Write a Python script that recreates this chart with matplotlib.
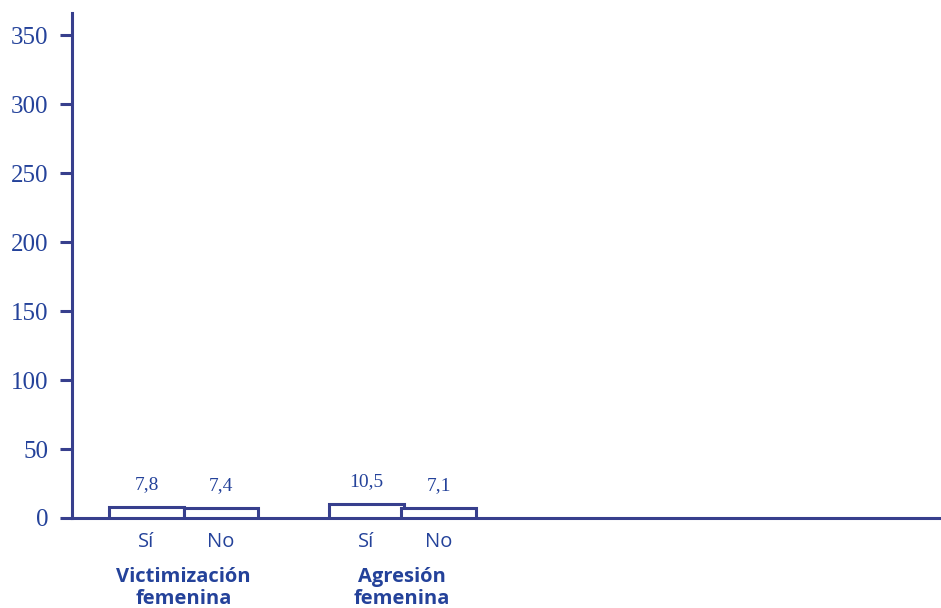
import matplotlib
matplotlib.use("Agg")
from matplotlib import pyplot as plt

# data
groups = ["Victimización\nfemenina", "Agresión\nfemenina"]
sub_labels = ["Sí", "No", "Sí", "No"]
values = [7.8, 7.4, 10.5, 7.1]
value_labels = ["7,8", "7,4", "10,5", "7,1"]
yticks = [0, 50, 100, 150, 200, 250, 300, 350]

positions = [1.0, 2.0, 3.95, 4.92]
group_pos = [1.5, 4.43]

axis_col = "#373f8d"
text_col = "#24429a"

fig = plt.figure(figsize=(9.41, 6.08), dpi=100)
ax = fig.add_axes([72 / 941, 90 / 608, 1 - 72 / 941, 505 / 608])

ax.bar(positions, values, width=1.0, color="white", edgecolor=axis_col, linewidth=2.2, zorder=3)

for x, v, lab in zip(positions, values, value_labels):
    ax.text(x, v + 10, lab, ha="center", va="bottom", fontsize=14,
            family="Liberation Serif", color=text_col)

ax.set_xlim(0, 11.66)
ax.set_ylim(0, 366)
ax.set_yticks(yticks)
ax.set_yticklabels([str(t) for t in yticks], family="Liberation Serif", fontsize=18, color=text_col)

ax.set_xticks(positions)
ax.set_xticklabels(sub_labels, family="Open Sans", fontsize=14.5, color=text_col)
ax.tick_params(axis="x", length=0, pad=10)
ax.tick_params(axis="y", length=9, width=2.2, color=axis_col, pad=8)

for x, g in zip(group_pos, groups):
    ax.text(x, -0.097, g, transform=ax.get_xaxis_transform(), ha="center", va="top",
            fontsize=14.5, fontweight="bold", family="Open Sans", color=text_col,
            linespacing=1.12)

for side in ["top", "right"]:
    ax.spines[side].set_visible(False)
for side in ["left", "bottom"]:
    ax.spines[side].set_color(axis_col)
    ax.spines[side].set_linewidth(2.2)

fig.savefig("out.png", dpi=100)
